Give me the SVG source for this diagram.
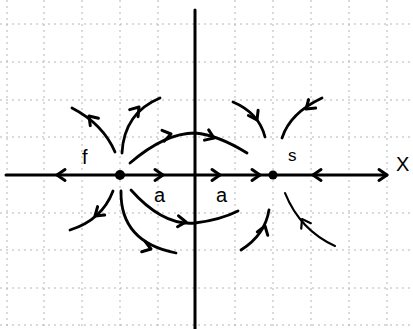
<svg xmlns="http://www.w3.org/2000/svg" xmlns:xlink="http://www.w3.org/1999/xlink" width="413" height="329" viewBox="0 0 413 329">
<style>
.grid{stroke:#b4b4b4;stroke-width:1;stroke-dasharray:2 4;fill:none}
.axis{stroke:#000;stroke-width:3;fill:none;stroke-linecap:round}
.cv{stroke:#000;stroke-width:2.8;fill:none;stroke-linecap:round}
.ch{stroke:#000;stroke-width:3;fill:none;stroke-linecap:round;stroke-linejoin:round}
.lbl{font-family:"Liberation Sans",Arial,sans-serif;font-size:20px;fill:#000}
</style>
<defs>
<path id="chev" d="M-8,-5.5 L0,0 L-8,5.5"/>
</defs>
<rect width="413" height="329" fill="#fff"/>
<g id="grid">
<path class="grid" d="M7,0V329M44,0V329M82,0V329M120,0V329M158,0V329M235,0V329M273,0V329M311,0V329M349,0V329M387,0V329"/>
<path class="grid" d="M0,24H413M0,62H413M0,100H413M0,137H413M0,213H413M0,250H413M0,288H413M0,325H413"/>
</g>
<g id="axes">
<path class="axis" d="M195,10V329"/>
<path class="axis" d="M6,175H387"/>
</g>
<g id="connectors">
<path class="cv" d="M115,152 Q103,124 72,108"/>
<path class="cv" d="M122,153 Q124,113 160,98"/>
<path class="cv" d="M130,163 Q165,133 195,133 Q218,135 247,153"/>
<path class="cv" d="M233,102 Q259,113 265,137"/>
<path class="cv" d="M322,98 Q290,113 282,138"/>
<path class="cv" d="M113,191 Q102,220 70,230"/>
<path class="cv" d="M121,191 Q120,242 176,253"/>
<path class="cv" d="M131,190 Q163,226 195,223 Q220,220 238,211"/>
<path class="cv" d="M241,250 Q265,235 269,210"/>
<path class="cv" d="M335,246 Q300,230 285,193" style="stroke-width:2"/>
<g class="ch">
<use xlink:href="#chev" transform="translate(57,175) rotate(180)"/>
<use xlink:href="#chev" transform="translate(163,175)"/>
<use xlink:href="#chev" transform="translate(220,175)"/>
<use xlink:href="#chev" transform="translate(260,175)"/>
<use xlink:href="#chev" transform="translate(313,175) rotate(180)"/>
<use xlink:href="#chev" transform="translate(387,175)"/>
<use xlink:href="#chev" transform="translate(89,116) rotate(-132)"/>
<use xlink:href="#chev" transform="translate(139,107) rotate(-50)"/>
<use xlink:href="#chev" transform="translate(171,134) rotate(-12)"/>
<use xlink:href="#chev" transform="translate(214,138) rotate(22)"/>
<use xlink:href="#chev" transform="translate(257,120) rotate(62)"/>
<use xlink:href="#chev" transform="translate(306,109) rotate(140)"/>
<use xlink:href="#chev" transform="translate(95,216) rotate(140)"/>
<use xlink:href="#chev" transform="translate(151,249) rotate(18)"/>
<use xlink:href="#chev" transform="translate(186,222) rotate(5)"/>
<use xlink:href="#chev" transform="translate(265,226) rotate(-72)"/>
<use xlink:href="#chev" transform="translate(302,219) rotate(-120)" style="stroke-width:2.2"/>
</g>
</g>
<g id="node-f">
<circle cx="120" cy="175" r="5" fill="#000"/>
<text class="lbl" x="82" y="164">f</text>
</g>
<g id="node-s">
<circle cx="273" cy="175" r="4.5" fill="#000"/>
<text class="lbl" x="288" y="161" style="font-size:17px">s</text>
</g>
<g id="labels">
<text class="lbl" x="396" y="171">X</text>
<text class="lbl" x="154" y="202">a</text>
<text class="lbl" x="216" y="202">a</text>
</g>
</svg>
